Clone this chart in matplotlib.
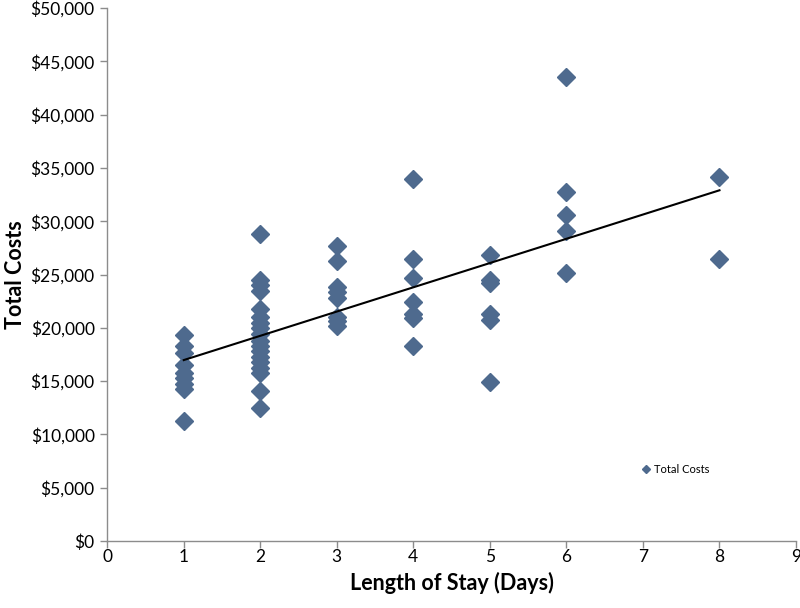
import numpy as np
import matplotlib
matplotlib.use("Agg")
import matplotlib.pyplot as plt
from matplotlib.ticker import FuncFormatter

days_1 = [19300, 18300, 17600, 16500, 15800, 15300, 14700, 14300, 11300]
days_2 = [28800, 24500, 24000, 23500, 21800, 21000, 20500, 20000, 19400, 18800,
          18300, 17800, 17300, 16800, 16200, 15800, 14100, 12500]
days_3 = [27700, 26300, 23800, 23400, 22800, 21000, 20600, 20200]
days_4 = [34000, 26500, 24700, 22400, 21300, 20900, 18300]
days_5 = [26800, 24500, 24200, 21300, 20700, 14900]
days_6 = [43500, 32700, 30600, 29100, 25100]
days_8 = [34100, 26500]

groups = {1: days_1, 2: days_2, 3: days_3, 4: days_4, 5: days_5, 6: days_6, 8: days_8}
x = np.concatenate([[k] * len(v) for k, v in groups.items()]).astype(float)
y = np.concatenate([v for v in groups.values()]).astype(float)

plt.rcParams['font.family'] = ['Lato', 'DejaVu Sans']

fig = plt.figure(figsize=(8.0, 6.08), dpi=100)
ax = fig.add_axes([0.134, 0.110, 0.861, 0.877])

color = '#4E6A8E'
ax.plot(x, y, linestyle='none', marker='D', markersize=9, color=color,
        markeredgecolor=color, label='Total Costs', zorder=3)

slope, intercept = np.polyfit(x, y, 1)
xl = np.array([x.min(), x.max()])
ax.plot(xl, slope * xl + intercept, color='black', linewidth=1.5, zorder=4)

ax.set_xlim(0, 9)
ax.set_ylim(0, 50000)
ax.set_xticks(range(0, 10))
ax.set_yticks(range(0, 50001, 5000))
ax.yaxis.set_major_formatter(FuncFormatter(lambda v, p: f"${int(v):,}"))

for s in ['top', 'right']:
    ax.spines[s].set_visible(False)
for s in ['left', 'bottom']:
    ax.spines[s].set_color('#8c8c8c')
    ax.spines[s].set_linewidth(1.0)
ax.tick_params(axis='both', colors='#8c8c8c', length=5, width=1.0,
               labelcolor='black', labelsize=12.5)
ax.tick_params(axis='x', pad=1)
ax.tick_params(axis='y', pad=4)

ax.set_xlabel('Length of Stay (Days)', fontsize=15.5, fontweight='bold', labelpad=5)
ax.set_ylabel('Total Costs', fontsize=15.5, fontweight='bold', labelpad=3)

leg = ax.legend(loc='center left', bbox_to_anchor=(0.766, 0.135), frameon=False,
                fontsize=8, handletextpad=0.1, markerscale=0.45, borderaxespad=0,
                handlelength=1.2)

fig.savefig('out.png', dpi=100)
